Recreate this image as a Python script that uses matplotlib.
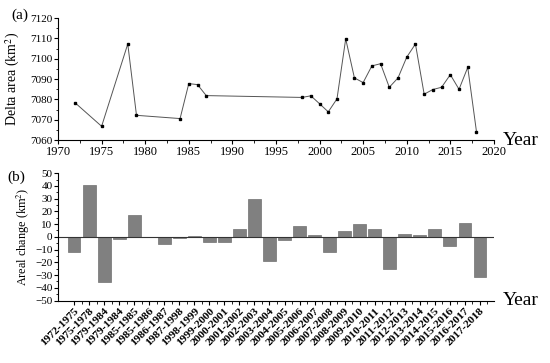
import matplotlib.pyplot as plt
from matplotlib.ticker import MultipleLocator, FixedLocator
import numpy

plt.rcParams['font.family'] = ['Liberation Serif', 'DejaVu Serif']
plt.rcParams['mathtext.fontset'] = 'stix'

# panel (a) delta area
years = [1972, 1975, 1978, 1979, 1984, 1985, 1986, 1987, 1998, 1999, 2000, 2001,
         2002, 2003, 2004, 2005, 2006, 2007, 2008, 2009, 2010, 2011, 2012, 2013,
         2014, 2015, 2016, 2017, 2018]
area = [7078.2, 7066.8, 7107.3, 7072.2, 7070.6, 7087.8, 7087.3, 7081.9, 7081.0, 7081.8,
        7077.9, 7073.9, 7080.3, 7109.8, 7090.6, 7088.3, 7096.5, 7097.6, 7086.0, 7090.6,
        7100.8, 7107.3, 7082.6, 7084.9, 7086.0, 7092.2, 7085.0, 7095.8, 7064.2]

# panel (b) areal change
periods = ["1972-1975", "1975-1978", "1979-1984", "1979-1984", "1985-1985", "1985-1986",
           "1986-1987", "1987-1998", "1998-1999", "1999-2000", "2000-2001", "2001-2002",
           "2002-2003", "2003-2004", "2004-2005", "2005-2006", "2006-2007", "2007-2008",
           "2008-2009", "2009-2010", "2010-2011", "2011-2012", "2012-2013", "2013-2014",
           "2014-2015", "2015-2016", "2016-2017", "2017-2018"]
change = [-11.6, 40.6, -35.3, -1.6, 17.2, -0.5, -5.6, -1.2, 0.8, -3.8, -4.1, 6.4,
          29.6, -19.3, -2.4, 8.2, 1.1, -11.6, 4.6, 10.3, 6.5, -25.0, 2.3, 1.1,
          6.1, -7.4, 10.9, -31.8]

fig = plt.figure(figsize=(5.5, 3.63), dpi=100)
ax1 = fig.add_axes([0.1055, 0.614, 0.7925, 0.336])
ax2 = fig.add_axes([0.1055, 0.172, 0.7925, 0.351])

ax1.plot(years, area, color='#555555', lw=0.7, marker='s', ms=1.8,
         mfc='black', mec='black')
ax1.set_xlim(1970, 2020)
ax1.set_ylim(7060, 7120)
ax1.xaxis.set_major_locator(MultipleLocator(5))
ax1.xaxis.set_minor_locator(MultipleLocator(2.5))
ax1.yaxis.set_major_locator(MultipleLocator(10))
ax1.yaxis.set_minor_locator(MultipleLocator(5))
ax1.set_ylabel('Delta area (km$^2$)', fontsize=10)
ax1.yaxis.set_label_coords(-0.083, 0.5)
ax1.text(1.02, 0.0, 'Year', transform=ax1.transAxes, fontsize=14, va='center', ha='left')
ax1.text(-0.068, 1.025, '(a)', transform=ax1.transAxes, fontsize=11, va='center', ha='right')

x = numpy.arange(len(change))
ax2.bar(x, change, width=0.85, color='#808080', edgecolor='#707070', lw=0.5)
ax2.axhline(0, color='#333333', lw=0.8)
ax2.set_xlim(-1.07, 27.93)
ax2.set_ylim(-50, 50)
ax2.yaxis.set_major_locator(MultipleLocator(10))
ax2.yaxis.set_minor_locator(MultipleLocator(5))
ax2.set_xticks(x)
ax2.set_xticklabels(periods, rotation=45, ha='right', rotation_mode='anchor',
                    fontweight='bold')
ax2.xaxis.set_minor_locator(FixedLocator(x + 0.5))
ax2.set_ylabel('Areal change (km$^2$)', fontsize=8.8)
ax2.yaxis.set_label_coords(-0.06, 0.5)
ax2.text(1.02, 0.0, 'Year', transform=ax2.transAxes, fontsize=14, va='center', ha='left')
ax2.text(-0.075, 0.97, '(b)', transform=ax2.transAxes, fontsize=11, va='center', ha='right')

for ax in (ax1, ax2):
    ax.spines['top'].set_visible(False)
    ax.spines['right'].set_visible(False)
    ax.tick_params(which='major', length=3, width=0.8, pad=1)
    ax.tick_params(which='minor', length=1.8, width=0.6)
    ax.tick_params(axis='y', which='major', labelsize=8)
ax1.tick_params(axis='x', which='major', labelsize=9)
ax2.tick_params(axis='x', which='major', labelsize=8.2, pad=1)

fig.savefig('out.png', dpi=100)
